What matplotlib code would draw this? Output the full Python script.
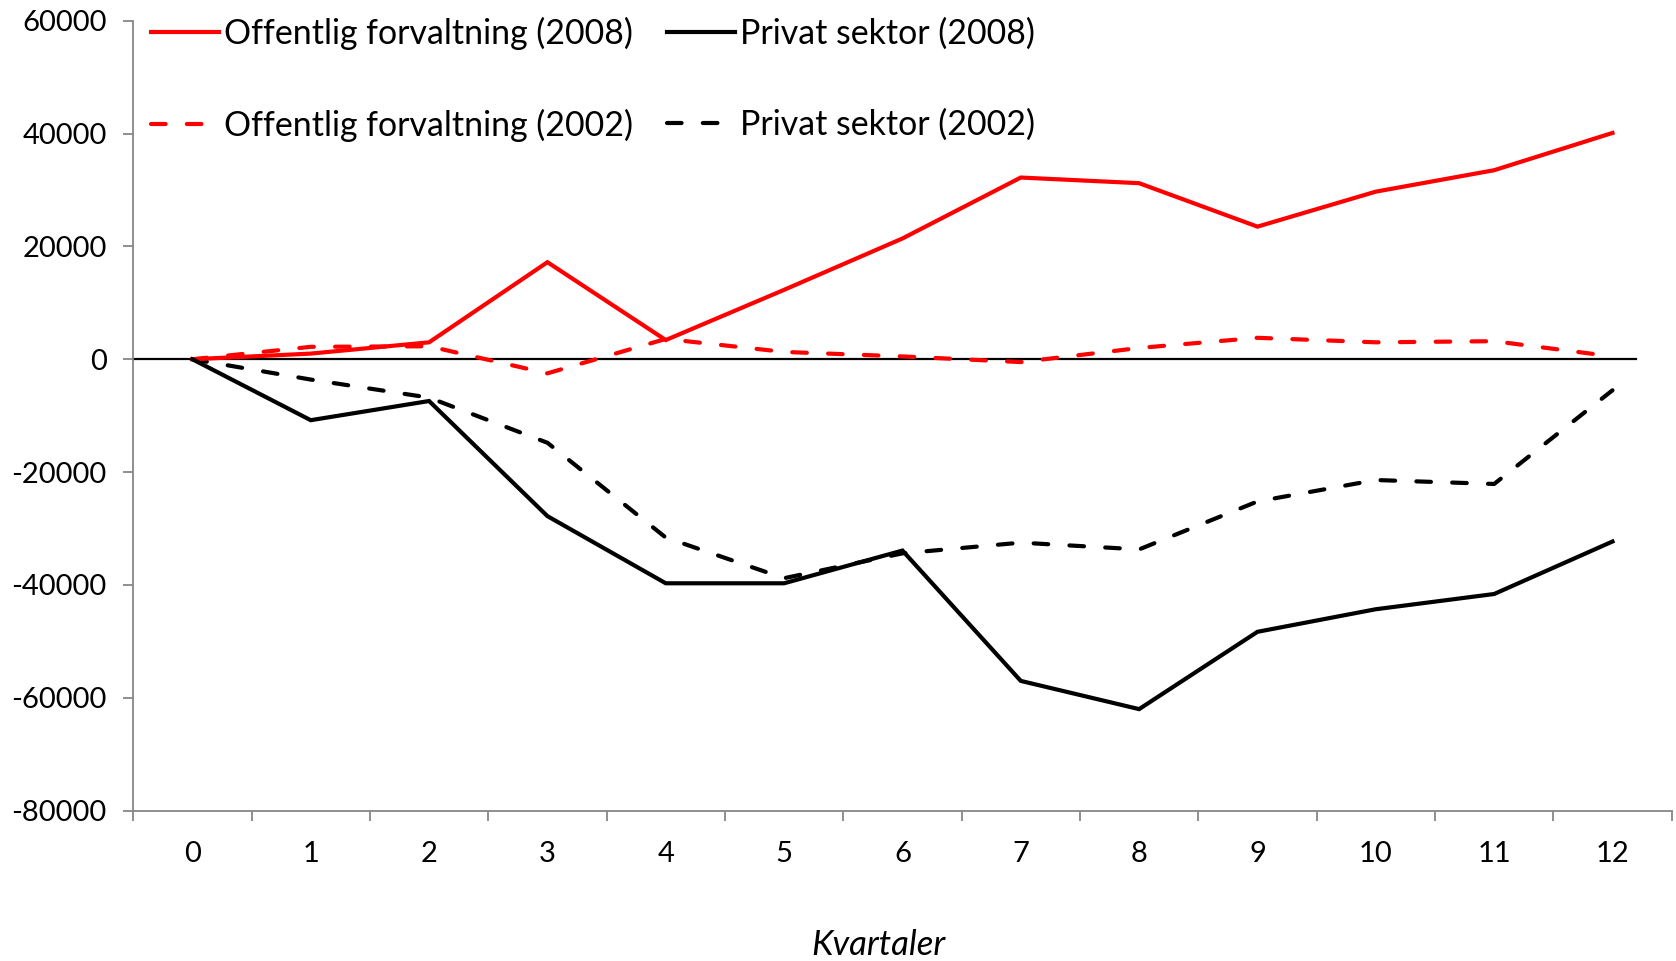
import matplotlib
matplotlib.use("Agg")
import matplotlib.pyplot as plt

plt.rcParams['font.family'] = ['Lato', 'DejaVu Sans']

quarters = list(range(13))
tick_labels = [str(q) for q in quarters]
off_2008 = [0, 1000, 3000, 17200, 3400, 12300, 21400, 32200, 31200, 23500, 29700, 33500, 40100]
priv_2008 = [0, -10800, -7400, -27800, -39700, -39700, -33900, -57000, -62000, -48300, -44300, -41600, -32300]
off_2002 = [0, 2200, 2300, -2500, 3600, 1300, 500, -500, 2000, 3800, 3000, 3200, 500]
priv_2002 = [0, -3600, -6800, -14800, -31600, -38800, -34400, -32500, -33700, -25200, -21400, -22100, -5500]
labels = ["Offentlig forvaltning (2008)", "Privat sektor (2008)",
          "Offentlig forvaltning (2002)", "Privat sektor (2002)"]
y_ticks = [-80000, -60000, -40000, -20000, 0, 20000, 40000, 60000]

fig = plt.figure(figsize=(16.76, 9.61), dpi=100)
ax = fig.add_axes([0.0795, 0.1564, 0.9179, 0.8221])

red = '#FF0000'
lw = 3.0
dash = (3.5, 5.1)
ax.axhline(0, xmin=0, xmax=(12.2 + 0.5) / 13, color='black', lw=1.6, zorder=1)
h1, = ax.plot(quarters, off_2008, color=red, lw=lw, solid_joinstyle='miter', zorder=3)
h2, = ax.plot(quarters, priv_2008, color='black', lw=lw, solid_joinstyle='miter', zorder=3)
h3, = ax.plot(quarters, off_2002, color=red, lw=lw, dashes=dash, dash_capstyle='round', zorder=2)
h4, = ax.plot(quarters, priv_2002, color='black', lw=lw, dashes=dash, dash_capstyle='round', zorder=2)

ax.set_xlim(-0.5, 12.5)
ax.set_ylim(-80000, 60000)
ax.set_yticks(y_ticks)
ax.set_yticklabels([str(v) for v in y_ticks])
ax.set_xticks(quarters)
ax.set_xticklabels(tick_labels)
ax.set_xticks([q - 0.5 for q in quarters] + [12.5], minor=True)

for s in ['top', 'right']:
    ax.spines[s].set_visible(False)
for s in ['left', 'bottom']:
    ax.spines[s].set_color('#868686')
    ax.spines[s].set_linewidth(1.3)

ax.tick_params(axis='y', which='major', direction='out', length=7, width=1.3,
               color='#868686', labelsize=21, pad=12)
ax.tick_params(axis='x', which='major', length=0, labelsize=21, pad=22)
ax.tick_params(axis='x', which='minor', direction='out', length=7, width=1.3, color='#868686')

fig.text(0.524, 0.006, "Kvartaler", fontsize=25, style='italic', ha='center', va='baseline')

leg = ax.legend([h1, h3, h2, h4], [labels[0], labels[2], labels[1], labels[3]],
                ncol=2, loc='upper left', bbox_to_anchor=(0.003, 1.022),
                frameon=False, fontsize=24.4, handlelength=2.0, handletextpad=0.15,
                labelspacing=1.73, columnspacing=1.0, borderaxespad=0)

fig.savefig("out.png", dpi=100)
